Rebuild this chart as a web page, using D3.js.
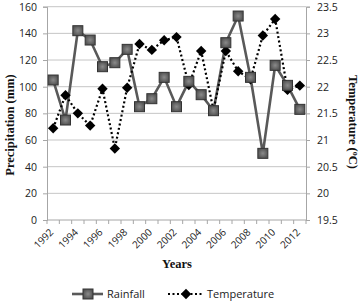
<!DOCTYPE html>
<html>
<head>
<meta charset="utf-8">
<script src="https://cdn.jsdelivr.net/npm/d3@7"></script>
<style>
  html, body { margin: 0; padding: 0; background: #fff; }
  svg { display: block; }
</style>
</head>
<body>
<svg id="chart" width="359" height="302"></svg>
<script>
const years = [1992,1993,1994,1995,1996,1997,1998,1999,2000,2001,2002,2003,2004,2005,2006,2007,2008,2009,2010,2011,2012];
const rainfall = [105,75,142,135,115,118,128,85,91,107,85,104,94,82,133,153,107,50,116,101,83];
const temperature = [21.22,21.84,21.5,21.27,21.96,20.84,21.98,22.8,22.69,22.87,22.93,22.03,22.67,21.56,22.67,22.29,22.14,22.96,23.27,21.94,22.02];
const leftTicks = [0,20,40,60,80,100,120,140,160];
const rightTicks = [19.5,20,20.5,21,21.5,22,22.5,23,23.5];
const xLabelYears = [1992,1994,1996,1998,2000,2002,2004,2006,2008,2010,2012];

const svg = d3.select("#chart");
const pL = 47, pR = 306, pT = 6.7, pB = 220;
const sansFont = "'Open Sans', sans-serif";
const serifFont = "'Liberation Serif', 'Times New Roman', serif";

const x = d3.scaleBand().domain(years).range([pL, pR]).paddingInner(0).paddingOuter(0);
const cx = d => x(d) + x.bandwidth() / 2;
const yL = d3.scaleLinear().domain([0, 160]).range([pB, pT]);
const yR = d3.scaleLinear().domain([19.5, 23.5]).range([pB, pT]);

// gridlines
svg.append("g").selectAll("line").data(leftTicks.filter(d => d > 0)).join("line")
  .attr("x1", pL).attr("x2", pR)
  .attr("y1", d => yL(d)).attr("y2", d => yL(d))
  .attr("stroke", "#c6c6c6").attr("stroke-width", 1);

// left axis
const gL = svg.append("g").attr("transform", `translate(${pL},0)`)
  .call(d3.axisLeft(yL).tickValues(leftTicks).tickSize(4).tickPadding(6));
gL.select(".domain").attr("stroke", "#a6a6a6");
gL.selectAll(".tick line").attr("stroke", "#a6a6a6");
gL.selectAll("text").attr("font-family", sansFont).attr("font-size", "10.5px").attr("fill", "#222");

// right axis
const gR = svg.append("g").attr("transform", `translate(${pR},0)`)
  .call(d3.axisRight(yR).tickValues(rightTicks).tickSize(4).tickPadding(7).tickFormat(d3.format("")));
gR.select(".domain").attr("stroke", "#a6a6a6");
gR.selectAll(".tick line").attr("stroke", "#a6a6a6");
gR.selectAll("text").attr("font-family", sansFont).attr("font-size", "10.5px").attr("fill", "#222");

// bottom axis
const gB = svg.append("g");
gB.append("line").attr("x1", pL).attr("x2", pR).attr("y1", pB).attr("y2", pB)
  .attr("stroke", "#a6a6a6");
const bounds = years.map(d => x(d)).concat([x(years[years.length - 1]) + x.bandwidth()]);
gB.selectAll("line.tk").data(bounds).join("line").attr("class", "tk")
  .attr("x1", d => d).attr("x2", d => d).attr("y1", pB).attr("y2", pB + 4)
  .attr("stroke", "#a6a6a6");
gB.selectAll("text").data(xLabelYears).join("text")
  .attr("transform", d => `translate(${cx(d) - 1},${pB + 11}) rotate(-45)`)
  .attr("text-anchor", "end").attr("dominant-baseline", "middle")
  .attr("font-family", sansFont).attr("font-size", "10px").attr("fill", "#222")
  .text(d => d);

// rainfall line
const rainLine = d3.line().x((d, i) => cx(years[i])).y(d => yL(d));
svg.append("path").datum(rainfall).attr("d", rainLine)
  .attr("fill", "none").attr("stroke", "#595959").attr("stroke-width", 2.6);

// temperature line
const tempLine = d3.line().x((d, i) => cx(years[i])).y(d => yR(d));
svg.append("path").datum(temperature).attr("d", tempLine)
  .attr("fill", "none").attr("stroke", "#000").attr("stroke-width", 2.2)
  .attr("stroke-dasharray", "2,2.5");

// gradient for squares
const defs = svg.append("defs");
const grad = defs.append("radialGradient").attr("id", "sq");
grad.append("stop").attr("offset", "0%").attr("stop-color", "#8a8a8a");
grad.append("stop").attr("offset", "100%").attr("stop-color", "#555");

// temperature markers
svg.append("g").selectAll("path").data(temperature).join("path")
  .attr("transform", (d, i) => `translate(${cx(years[i])},${yR(d)})`)
  .attr("d", "M0,-5.2L5.2,0L0,5.2L-5.2,0Z").attr("fill", "#000");

// rainfall markers
svg.append("g").selectAll("rect").data(rainfall).join("rect")
  .attr("x", (d, i) => cx(years[i]) - 5).attr("y", d => yL(d) - 5)
  .attr("width", 10).attr("height", 10)
  .attr("fill", "url(#sq)").attr("stroke", "#333").attr("stroke-width", 1);

// axis titles
svg.append("text").attr("transform", `translate(14,125) rotate(-90)`)
  .attr("text-anchor", "middle").attr("font-family", serifFont).attr("font-weight", "bold")
  .attr("font-size", "12.5px").attr("fill", "#111").text("Precipitation (mm)");
const tt = svg.append("text").attr("transform", `translate(349,122) rotate(90)`)
  .attr("text-anchor", "middle").attr("font-family", serifFont).attr("font-weight", "bold")
  .attr("font-size", "12.5px").attr("fill", "#111");
tt.append("tspan").text("Temperature (");
tt.append("tspan").attr("font-size", "8px").attr("dy", "-4").text("o");
tt.append("tspan").attr("dy", "4").text("C)");
svg.append("text").attr("x", 177).attr("y", 268)
  .attr("text-anchor", "middle").attr("font-family", serifFont).attr("font-weight", "bold")
  .attr("font-size", "12.5px").attr("fill", "#111").text("Years");

// legend
const lg = svg.append("g");
lg.append("line").attr("x1", 72).attr("x2", 103).attr("y1", 294).attr("y2", 294)
  .attr("stroke", "#595959").attr("stroke-width", 2.6);
lg.append("rect").attr("x", 83).attr("y", 289).attr("width", 10).attr("height", 10)
  .attr("fill", "url(#sq)").attr("stroke", "#333");
lg.append("text").attr("x", 107).attr("y", 298).attr("font-family", sansFont)
  .attr("font-size", "11px").attr("fill", "#222").text("Rainfall");
lg.append("line").attr("x1", 168).attr("x2", 203).attr("y1", 294).attr("y2", 294)
  .attr("stroke", "#000").attr("stroke-width", 2.2).attr("stroke-dasharray", "2,2.5");
lg.append("path").attr("transform", "translate(186,294)").attr("d", "M0,-5.2L5.2,0L0,5.2L-5.2,0Z").attr("fill", "#000");
lg.append("text").attr("x", 207).attr("y", 298).attr("font-family", sansFont)
  .attr("font-size", "11px").attr("fill", "#222").text("Temperature");
</script>
</body>
</html>
